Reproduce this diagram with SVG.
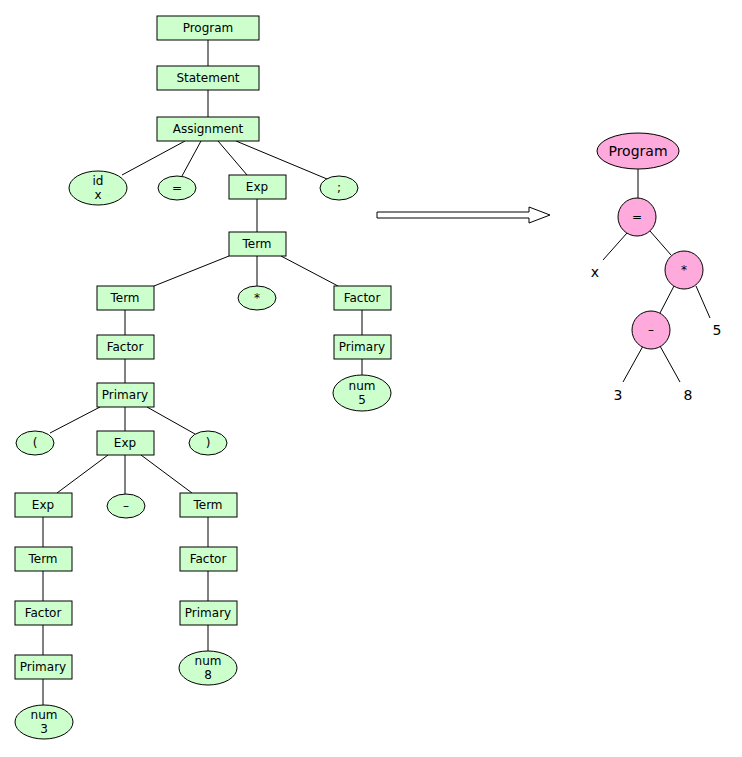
<svg xmlns="http://www.w3.org/2000/svg" width="742" height="757" viewBox="0 0 742 757">
<style>
.b{fill:#ccffcc;stroke:#000;stroke-width:1}
.p{fill:#ffaadd;stroke:#000;stroke-width:1}
text{font-family:"DejaVu Sans",sans-serif;font-size:12px;text-anchor:middle;dominant-baseline:central;fill:#000}
.r{font-size:14px}
#edges line{stroke:#000;stroke-width:1}
</style>
<rect width="742" height="757" fill="#fff"/>
<g id="edges">
<line x1="208" y1="40" x2="208" y2="66"/>
<line x1="208" y1="90" x2="208" y2="117"/>
<line x1="185" y1="141" x2="122" y2="175"/>
<line x1="201" y1="141" x2="182" y2="176"/>
<line x1="218" y1="141" x2="247" y2="175"/>
<line x1="236" y1="141" x2="327" y2="179"/>
<line x1="257" y1="199" x2="257" y2="232"/>
<line x1="229" y1="256" x2="154" y2="286"/>
<line x1="257" y1="256" x2="257" y2="286"/>
<line x1="281" y1="256" x2="338" y2="286"/>
<line x1="362" y1="310" x2="362" y2="335"/>
<line x1="362" y1="359" x2="362" y2="375"/>
<line x1="125" y1="310" x2="125" y2="335"/>
<line x1="125" y1="359" x2="125" y2="383"/>
<line x1="100" y1="407" x2="50" y2="433"/>
<line x1="125" y1="407" x2="125" y2="431"/>
<line x1="147" y1="407" x2="195" y2="434"/>
<line x1="108" y1="455" x2="57" y2="493"/>
<line x1="125" y1="455" x2="125" y2="494"/>
<line x1="141" y1="455" x2="192" y2="493"/>
<line x1="43" y1="517" x2="43" y2="547"/>
<line x1="43" y1="571" x2="43" y2="601"/>
<line x1="43" y1="625" x2="43" y2="655"/>
<line x1="43" y1="679" x2="43" y2="705"/>
<line x1="208" y1="517" x2="208" y2="547"/>
<line x1="208" y1="571" x2="208" y2="601"/>
<line x1="208" y1="625" x2="208" y2="651"/>
<line x1="638" y1="169" x2="638" y2="198"/>
<line x1="627" y1="233" x2="603" y2="260"/>
<line x1="650" y1="231" x2="671" y2="255"/>
<line x1="674" y1="286" x2="660" y2="313"/>
<line x1="696" y1="286" x2="710" y2="318"/>
<line x1="643" y1="346" x2="623" y2="382"/>
<line x1="660" y1="346" x2="680" y2="382"/>
</g>
<g id="arrow"><path d="M377,212 H529 V207 L550,215 L529,223 V218 H377 Z" fill="#fff" stroke="#000"/></g>
<g id="n1"><rect class="b" x="157" y="16" width="102" height="24"/><text x="208" y="28">Program</text></g>
<g id="n2"><rect class="b" x="157" y="66" width="102" height="24"/><text x="208" y="78">Statement</text></g>
<g id="n3"><rect class="b" x="157" y="117" width="102" height="24"/><text x="208" y="129">Assignment</text></g>
<g id="n4"><ellipse class="b" cx="98" cy="188" rx="29" ry="17"/><text x="98" y="181">id</text><text x="98" y="195">x</text></g>
<g id="n5"><ellipse class="b" cx="177" cy="188" rx="19" ry="12"/><text x="177" y="188">=</text></g>
<g id="n6"><rect class="b" x="229" y="175" width="57" height="24"/><text x="257" y="187">Exp</text></g>
<g id="n7"><ellipse class="b" cx="339" cy="188" rx="19" ry="12"/><text x="339" y="188">;</text></g>
<g id="n8"><rect class="b" x="229" y="232" width="57" height="24"/><text x="257" y="244">Term</text></g>
<g id="n9"><rect class="b" x="97" y="286" width="57" height="24"/><text x="125" y="298">Term</text></g>
<g id="n10"><ellipse class="b" cx="257" cy="298" rx="19" ry="12"/><text x="257" y="298">*</text></g>
<g id="n11"><rect class="b" x="334" y="286" width="57" height="24"/><text x="362" y="298">Factor</text></g>
<g id="n12"><rect class="b" x="334" y="335" width="57" height="24"/><text x="362" y="347">Primary</text></g>
<g id="n13"><ellipse class="b" cx="362" cy="393" rx="29" ry="18"/><text x="362" y="386">num</text><text x="362" y="400">5</text></g>
<g id="n14"><rect class="b" x="97" y="335" width="57" height="24"/><text x="125" y="347">Factor</text></g>
<g id="n15"><rect class="b" x="97" y="383" width="57" height="24"/><text x="125" y="395">Primary</text></g>
<g id="n16"><ellipse class="b" cx="35" cy="443" rx="19" ry="12"/><text x="35" y="443">(</text></g>
<g id="n17"><rect class="b" x="97" y="431" width="57" height="24"/><text x="125" y="443">Exp</text></g>
<g id="n18"><ellipse class="b" cx="208" cy="443" rx="19" ry="12"/><text x="208" y="443">)</text></g>
<g id="n19"><rect class="b" x="15" y="493" width="57" height="24"/><text x="43" y="505">Exp</text></g>
<g id="n20"><ellipse class="b" cx="126" cy="506" rx="19" ry="12"/><text x="126" y="506">–</text></g>
<g id="n21"><rect class="b" x="180" y="493" width="57" height="24"/><text x="208" y="505">Term</text></g>
<g id="n22"><rect class="b" x="15" y="547" width="57" height="24"/><text x="43" y="559">Term</text></g>
<g id="n23"><rect class="b" x="15" y="601" width="57" height="24"/><text x="43" y="613">Factor</text></g>
<g id="n24"><rect class="b" x="15" y="655" width="57" height="24"/><text x="43" y="667">Primary</text></g>
<g id="n25"><ellipse class="b" cx="44" cy="722" rx="29" ry="17"/><text x="44" y="715">num</text><text x="44" y="729">3</text></g>
<g id="n26"><rect class="b" x="180" y="547" width="57" height="24"/><text x="208" y="559">Factor</text></g>
<g id="n27"><rect class="b" x="180" y="601" width="57" height="24"/><text x="208" y="613">Primary</text></g>
<g id="n28"><ellipse class="b" cx="208" cy="668" rx="29" ry="17"/><text x="208" y="661">num</text><text x="208" y="675">8</text></g>
<g id="a1"><ellipse class="p" cx="638" cy="151" rx="41" ry="18"/><text class="r" x="638" y="151">Program</text></g>
<g id="a2"><circle class="p" cx="637" cy="217" r="19"/><text x="637" y="217">=</text></g>
<g id="a3"><text class="r" x="595" y="272">x</text></g>
<g id="a4"><circle class="p" cx="684" cy="270" r="19"/><text x="684" y="270">*</text></g>
<g id="a5"><circle class="p" cx="651" cy="330" r="19"/><text x="651" y="330">–</text></g>
<g id="a6"><text class="r" x="717" y="330">5</text></g>
<g id="a7"><text class="r" x="618" y="395">3</text></g>
<g id="a8"><text class="r" x="688" y="395">8</text></g>
</svg>
